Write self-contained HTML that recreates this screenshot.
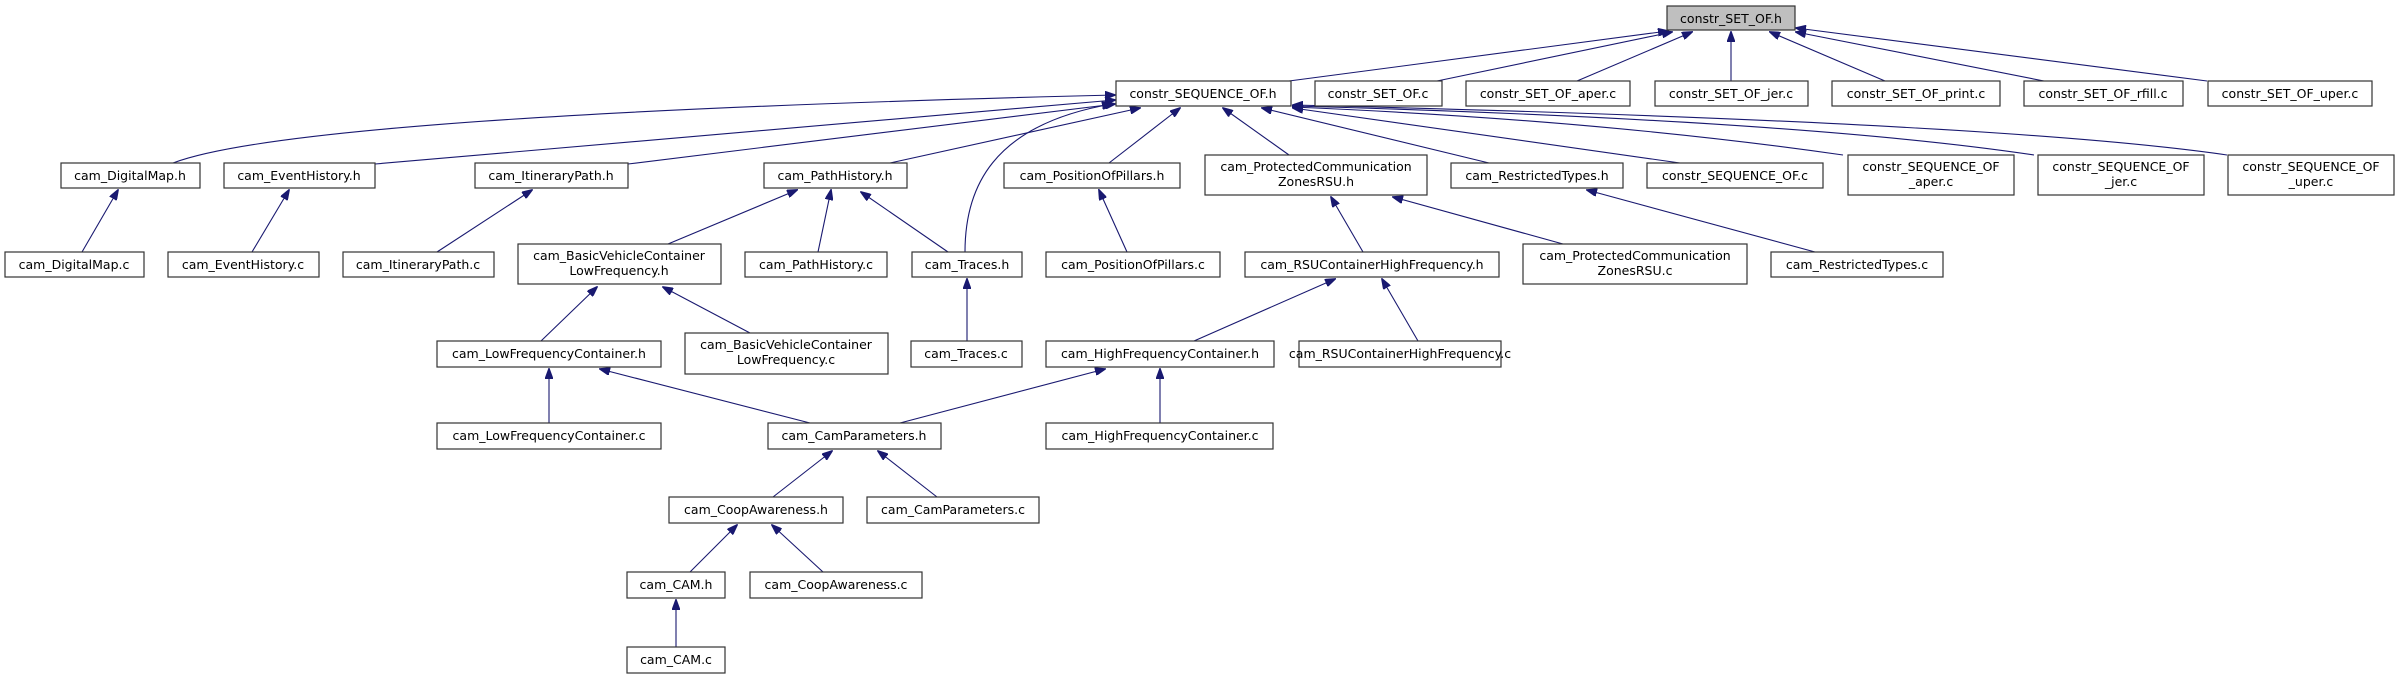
<!DOCTYPE html>
<html><head><meta charset="utf-8"><style>
html,body{margin:0;padding:0;background:#fff}
svg{display:block}
text{font-family:"DejaVu Sans","Liberation Sans",sans-serif;font-size:12.5px;fill:#000}
.b{fill:#fff;stroke:#333;stroke-width:1.2}
.e{fill:none;stroke:#191970;stroke-width:1.1;marker-end:url(#a)}
</style></head><body>
<svg width="2396" height="679" viewBox="0 0 2396 679" xmlns="http://www.w3.org/2000/svg">
<defs><marker id="a" markerWidth="11" markerHeight="8" refX="10" refY="4" orient="auto" markerUnits="userSpaceOnUse"><path d="M0,0 L11,4 L0,8 Z" fill="#191970" stroke="#191970"/></marker></defs>

<!-- edges to constr_SET_OF.h -->
<path class="e" d="M1289,81 L1668,31"/>
<path class="e" d="M1437,81 L1672,32"/>
<path class="e" d="M1577,81 L1692,32"/>
<path class="e" d="M1731,81 L1731,32"/>
<path class="e" d="M1885,81 L1770,32"/>
<path class="e" d="M2044,81 L1796,32"/>
<path class="e" d="M2207,81 L1796,28"/>

<!-- edges to constr_SEQUENCE_OF.h -->
<path class="e" d="M173,163 Q300,115 1115,95"/>
<path class="e" d="M375,164 L1115,100"/>
<path class="e" d="M628,164 L1115,104"/>
<path class="e" d="M890,163 L1140,108"/>
<path class="e" d="M965,252 C965,190 990,125 1112,104"/>
<path class="e" d="M1109,163 L1180,108"/>
<path class="e" d="M1289,155 L1223,108"/>
<path class="e" d="M1489,163 L1262,108"/>
<path class="e" d="M1680,163 L1293,108"/>
<path class="e" d="M1843,155 Q1600,120 1293,107"/>
<path class="e" d="M2034,155 Q1800,120 1293,106"/>
<path class="e" d="M2227,155 Q2000,122 1293,105"/>

<!-- level 3 to 4 -->
<path class="e" d="M82,252 L118,190"/>
<path class="e" d="M252,252 L289,190"/>
<path class="e" d="M437,252 L532,190"/>
<path class="e" d="M668,244 L797,190"/>
<path class="e" d="M818,252 L831,190"/>
<path class="e" d="M948,252 L861,192"/>
<path class="e" d="M1127,252 L1099,190"/>
<path class="e" d="M1363,252 L1331,197"/>
<path class="e" d="M1563,244 L1393,197"/>
<path class="e" d="M1815,252 L1587,190"/>

<!-- level 4 to 5 -->
<path class="e" d="M541,341 L597,287"/>
<path class="e" d="M750,333 L663,287"/>
<path class="e" d="M967,341 L967,279"/>
<path class="e" d="M1194,341 L1335,279"/>
<path class="e" d="M1418,341 L1382,279"/>

<!-- level 5 to 6 -->
<path class="e" d="M549,423 L549,369"/>
<path class="e" d="M810,423 L600,369"/>
<path class="e" d="M900,423 L1105,369"/>
<path class="e" d="M1160,423 L1160,369"/>

<!-- level 6 to 7 -->
<path class="e" d="M773,497 L832,451"/>
<path class="e" d="M937,497 L878,451"/>
<!-- level 7 to 8 -->
<path class="e" d="M690,572 L737,525"/>
<path class="e" d="M823,572 L772,525"/>
<!-- level 8 to 9 -->
<path class="e" d="M676,647 L676,600"/>

<!-- nodes -->
<rect x="1667" y="6" width="128" height="24" fill="#bfbfbf" stroke="#333" stroke-width="1.2"/><text x="1731" y="23" text-anchor="middle">constr_SET_OF.h</text>

<rect class="b" x="1116" y="81" width="175" height="25"/><text x="1203" y="98" text-anchor="middle">constr_SEQUENCE_OF.h</text>
<rect class="b" x="1315" y="81" width="127" height="25"/><text x="1378" y="98" text-anchor="middle">constr_SET_OF.c</text>
<rect class="b" x="1466" y="81" width="164" height="25"/><text x="1548" y="98" text-anchor="middle">constr_SET_OF_aper.c</text>
<rect class="b" x="1655" y="81" width="153" height="25"/><text x="1731" y="98" text-anchor="middle">constr_SET_OF_jer.c</text>
<rect class="b" x="1832" y="81" width="168" height="25"/><text x="1916" y="98" text-anchor="middle">constr_SET_OF_print.c</text>
<rect class="b" x="2024" y="81" width="159" height="25"/><text x="2103" y="98" text-anchor="middle">constr_SET_OF_rfill.c</text>
<rect class="b" x="2208" y="81" width="164" height="25"/><text x="2290" y="98" text-anchor="middle">constr_SET_OF_uper.c</text>

<rect class="b" x="61" y="163" width="139" height="25"/><text x="130" y="180" text-anchor="middle">cam_DigitalMap.h</text>
<rect class="b" x="224" y="163" width="151" height="25"/><text x="299" y="180" text-anchor="middle">cam_EventHistory.h</text>
<rect class="b" x="475" y="163" width="153" height="25"/><text x="551" y="180" text-anchor="middle">cam_ItineraryPath.h</text>
<rect class="b" x="764" y="163" width="143" height="25"/><text x="835" y="180" text-anchor="middle">cam_PathHistory.h</text>
<rect class="b" x="1004" y="163" width="176" height="25"/><text x="1092" y="180" text-anchor="middle">cam_PositionOfPillars.h</text>
<rect class="b" x="1205" y="155" width="222" height="40"/><text x="1316" y="171" text-anchor="middle">cam_ProtectedCommunication</text><text x="1316" y="186" text-anchor="middle">ZonesRSU.h</text>
<rect class="b" x="1451" y="163" width="172" height="25"/><text x="1537" y="180" text-anchor="middle">cam_RestrictedTypes.h</text>
<rect class="b" x="1647" y="163" width="176" height="25"/><text x="1735" y="180" text-anchor="middle">constr_SEQUENCE_OF.c</text>
<rect class="b" x="1848" y="155" width="166" height="40"/><text x="1931" y="171" text-anchor="middle">constr_SEQUENCE_OF</text><text x="1931" y="186" text-anchor="middle">_aper.c</text>
<rect class="b" x="2038" y="155" width="166" height="40"/><text x="2121" y="171" text-anchor="middle">constr_SEQUENCE_OF</text><text x="2121" y="186" text-anchor="middle">_jer.c</text>
<rect class="b" x="2228" y="155" width="166" height="40"/><text x="2311" y="171" text-anchor="middle">constr_SEQUENCE_OF</text><text x="2311" y="186" text-anchor="middle">_uper.c</text>

<rect class="b" x="5" y="252" width="139" height="25"/><text x="74" y="269" text-anchor="middle">cam_DigitalMap.c</text>
<rect class="b" x="168" y="252" width="151" height="25"/><text x="243" y="269" text-anchor="middle">cam_EventHistory.c</text>
<rect class="b" x="343" y="252" width="151" height="25"/><text x="418" y="269" text-anchor="middle">cam_ItineraryPath.c</text>
<rect class="b" x="518" y="244" width="203" height="40"/><text x="619" y="260" text-anchor="middle">cam_BasicVehicleContainer</text><text x="619" y="275" text-anchor="middle">LowFrequency.h</text>
<rect class="b" x="745" y="252" width="142" height="25"/><text x="816" y="269" text-anchor="middle">cam_PathHistory.c</text>
<rect class="b" x="912" y="252" width="110" height="25"/><text x="967" y="269" text-anchor="middle">cam_Traces.h</text>
<rect class="b" x="1046" y="252" width="174" height="25"/><text x="1133" y="269" text-anchor="middle">cam_PositionOfPillars.c</text>
<rect class="b" x="1245" y="252" width="254" height="25"/><text x="1372" y="269" text-anchor="middle">cam_RSUContainerHighFrequency.h</text>
<rect class="b" x="1523" y="244" width="224" height="40"/><text x="1635" y="260" text-anchor="middle">cam_ProtectedCommunication</text><text x="1635" y="275" text-anchor="middle">ZonesRSU.c</text>
<rect class="b" x="1771" y="252" width="172" height="25"/><text x="1857" y="269" text-anchor="middle">cam_RestrictedTypes.c</text>

<rect class="b" x="437" y="341" width="224" height="26"/><text x="549" y="358" text-anchor="middle">cam_LowFrequencyContainer.h</text>
<rect class="b" x="685" y="333" width="203" height="41"/><text x="786" y="349" text-anchor="middle">cam_BasicVehicleContainer</text><text x="786" y="364" text-anchor="middle">LowFrequency.c</text>
<rect class="b" x="911" y="341" width="111" height="26"/><text x="966" y="358" text-anchor="middle">cam_Traces.c</text>
<rect class="b" x="1046" y="341" width="228" height="26"/><text x="1160" y="358" text-anchor="middle">cam_HighFrequencyContainer.h</text>
<rect class="b" x="1299" y="341" width="202" height="26"/><text x="1400" y="358" text-anchor="middle">cam_RSUContainerHighFrequency.c</text>

<rect class="b" x="437" y="423" width="224" height="26"/><text x="549" y="440" text-anchor="middle">cam_LowFrequencyContainer.c</text>
<rect class="b" x="768" y="423" width="173" height="26"/><text x="854" y="440" text-anchor="middle">cam_CamParameters.h</text>
<rect class="b" x="1046" y="423" width="227" height="26"/><text x="1160" y="440" text-anchor="middle">cam_HighFrequencyContainer.c</text>

<rect class="b" x="669" y="497" width="174" height="26"/><text x="756" y="514" text-anchor="middle">cam_CoopAwareness.h</text>
<rect class="b" x="867" y="497" width="172" height="26"/><text x="953" y="514" text-anchor="middle">cam_CamParameters.c</text>

<rect class="b" x="627" y="572" width="98" height="26"/><text x="676" y="589" text-anchor="middle">cam_CAM.h</text>
<rect class="b" x="750" y="572" width="172" height="26"/><text x="836" y="589" text-anchor="middle">cam_CoopAwareness.c</text>

<rect class="b" x="627" y="647" width="98" height="26"/><text x="676" y="664" text-anchor="middle">cam_CAM.c</text>
</svg>
</body></html>
